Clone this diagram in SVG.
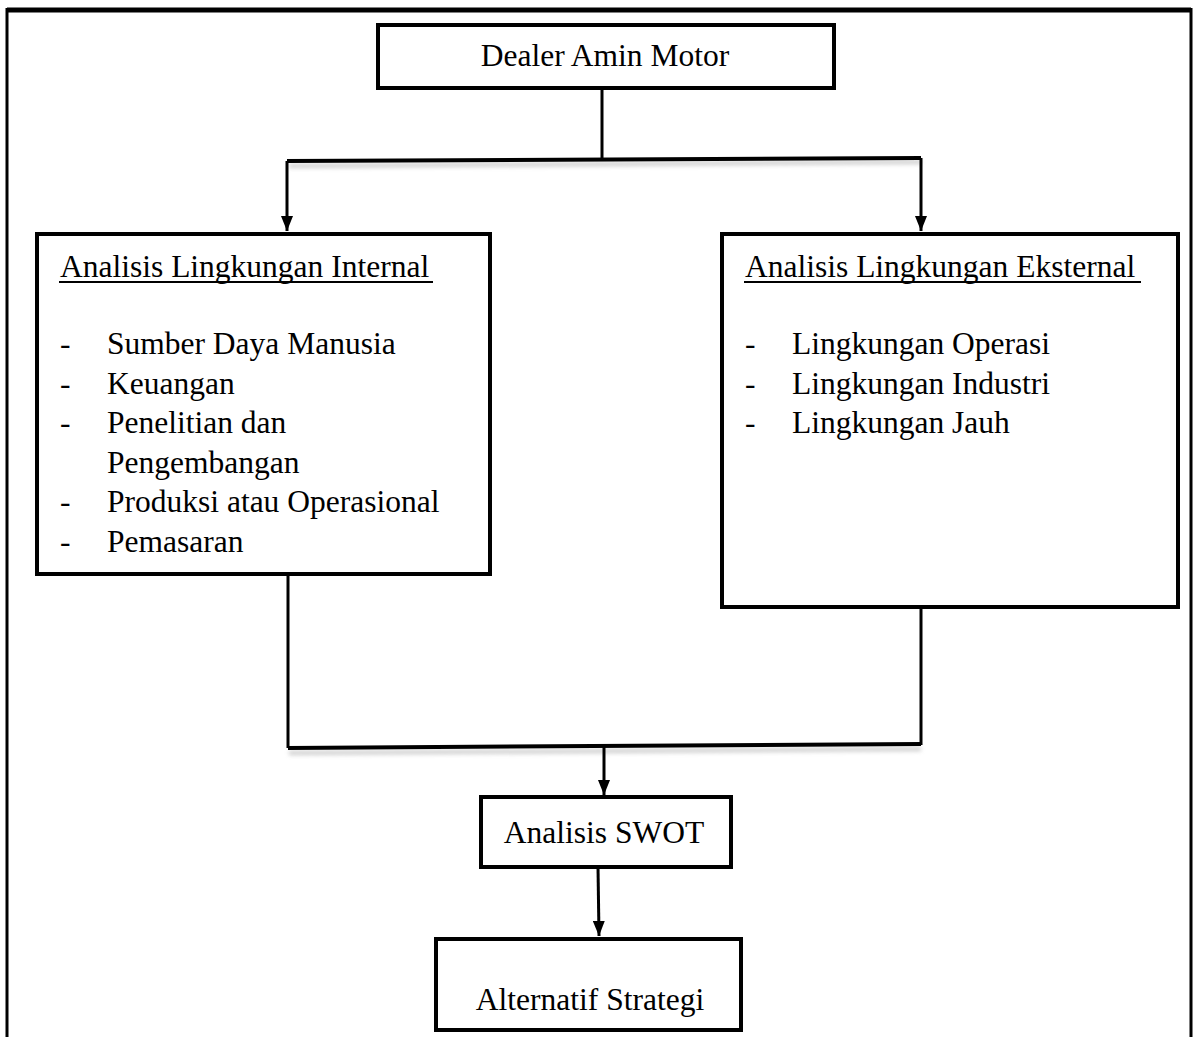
<svg xmlns="http://www.w3.org/2000/svg" width="1196" height="1037" viewBox="0 0 1196 1037">
<style>
.box{fill:#fff;stroke:#000;stroke-width:4}
.t{font-family:"Liberation Serif","Times New Roman",serif;font-size:31.5px;fill:#000}
.c{text-anchor:middle}
.ln{fill:none;stroke:#000;stroke-width:3}
.hl{fill:none;stroke:#000;stroke-width:4}
.sh{fill:none;stroke:#999;stroke-width:4;opacity:0.5;filter:url(#blur)}
</style>
<defs>
<marker id="arr" viewBox="0 0 10 10" refX="10" refY="5" markerWidth="5" markerHeight="4" markerUnits="strokeWidth" orient="auto" preserveAspectRatio="none">
<path d="M0,0 L10,5 L0,10 z" fill="#000"/>
</marker>
<filter id="blur" x="-5%" y="-200%" width="110%" height="500%"><feGaussianBlur stdDeviation="2"/></filter>
</defs>
<rect width="1196" height="1037" fill="#fff"/>
<g id="frame">
<line x1="7" y1="10" x2="1191" y2="10" stroke="#000" stroke-width="5"/>
<line x1="7" y1="8" x2="7" y2="1037" stroke="#000" stroke-width="3"/>
<line x1="1191" y1="8" x2="1191" y2="1037" stroke="#000" stroke-width="3"/>
</g>
<g id="connectors">
<path class="sh" d="M289,166 L921,162"/>
<path class="sh" d="M289,753 L921,749"/>
<line class="ln" x1="602" y1="88" x2="602" y2="160"/>
<path class="hl" d="M287,161 L921,158"/>
<line class="ln" x1="287" y1="161" x2="287" y2="231" marker-end="url(#arr)"/>
<line class="ln" x1="921" y1="158" x2="921" y2="231" marker-end="url(#arr)"/>
<line class="ln" x1="288" y1="574" x2="288" y2="748"/>
<line class="ln" x1="921" y1="607" x2="921" y2="745"/>
<path class="hl" d="M288,748 L921,744"/>
<line class="ln" x1="604" y1="747" x2="604" y2="795" marker-end="url(#arr)"/>
<line class="ln" x1="598" y1="867" x2="599" y2="936" marker-end="url(#arr)"/>
</g>
<g id="dealer">
<rect class="box" x="378" y="25" width="456" height="63"/>
<text class="t c" x="605" y="66">Dealer Amin Motor</text>
</g>
<g id="internal">
<rect class="box" x="37" y="234" width="453" height="340"/>
<text class="t" x="60" y="277">Analisis Lingkungan Internal</text>
<line x1="59" y1="282" x2="433" y2="282" stroke="#000" stroke-width="2"/>
<text class="t" x="60" y="354">-</text><text class="t" x="107" y="354">Sumber Daya Manusia</text>
<text class="t" x="60" y="394">-</text><text class="t" x="107" y="394">Keuangan</text>
<text class="t" x="60" y="433">-</text><text class="t" x="107" y="433">Penelitian dan</text>
<text class="t" x="107" y="473">Pengembangan</text>
<text class="t" x="60" y="512">-</text><text class="t" x="107" y="512">Produksi atau Operasional</text>
<text class="t" x="60" y="552">-</text><text class="t" x="107" y="552">Pemasaran</text>
</g>
<g id="external">
<rect class="box" x="722" y="234" width="456" height="373"/>
<text class="t" x="745" y="277">Analisis Lingkungan Eksternal</text>
<line x1="744" y1="282" x2="1141" y2="282" stroke="#000" stroke-width="2"/>
<text class="t" x="745" y="354">-</text><text class="t" x="792" y="354">Lingkungan Operasi</text>
<text class="t" x="745" y="394">-</text><text class="t" x="792" y="394">Lingkungan Industri</text>
<text class="t" x="745" y="433">-</text><text class="t" x="792" y="433">Lingkungan Jauh</text>
</g>
<g id="swot">
<rect class="box" x="481" y="797" width="250" height="70"/>
<text class="t c" x="604" y="843">Analisis SWOT</text>
</g>
<g id="alternatif">
<rect class="box" x="436" y="939" width="305" height="91"/>
<text class="t c" x="590" y="1010">Alternatif Strategi</text>
</g>
</svg>
